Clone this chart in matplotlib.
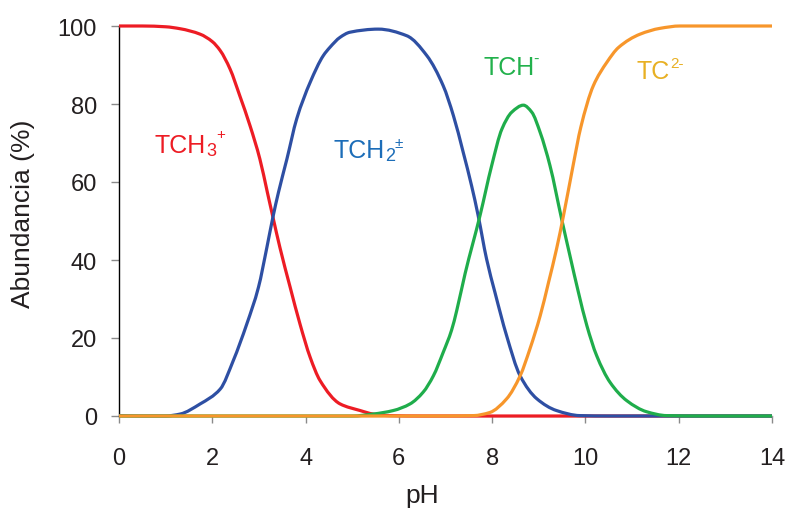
import matplotlib
matplotlib.use("Agg")
import matplotlib.pyplot as plt
import numpy as np
from matplotlib.path import Path
from matplotlib.patches import PathPatch

plt.rcParams['font.family'] = ['Liberation Sans', 'DejaVu Sans']

# ---- data ----
red_ph = [0, 0.5, 1.0, 1.31, 1.74, 2.0, 2.17, 2.38, 2.59, 2.81, 3.02, 3.18, 3.30, 3.45,
          3.67, 3.88, 4.10, 4.31, 4.74, 5.17, 5.45, 5.8, 6.5, 8, 10, 12, 14]
red_val = [100, 100, 99.8, 99.3, 97.9, 96, 93.7, 89, 82.1, 74.4, 65.9, 57.4, 51, 43.2,
           33.0, 23.6, 15.0, 9.1, 3.1, 1.4, 0.5, 0.1, 0, 0, 0, 0, 0]

blue_ph = [0, 0.5, 1.0, 1.31, 1.74, 2.17, 2.45, 2.74, 2.99, 3.17, 3.30, 3.42, 3.60,
           3.81, 4.10, 4.38, 4.52, 4.74, 4.95, 5.56, 6.17, 6.60, 6.95, 7.17, 7.38,
           7.56, 7.70, 7.88, 8.06, 8.31, 8.60, 8.96, 9.38, 9.88, 10.5, 12, 14]
blue_val = [0.1, 0, 0, 0.5, 3.1, 6.9, 14.2, 23.6, 33.0, 43.2, 51, 57.4, 65.9,
            76.2, 85.6, 92.4, 94.5, 97.1, 98.4, 99.2, 97.5, 92.4, 84.7, 77, 67.6,
            59, 51.4, 40.3, 31.7, 20.6, 10.3, 4.4, 1.4, 0.1, 0, 0, 0]

green_ph = [0, 3, 5.0, 5.45, 5.88, 6.24, 6.52, 6.74, 6.95, 7.13, 7.24, 7.42,
            7.74, 7.99, 8.21, 8.42, 8.67, 8.85, 9.03, 9.24, 9.49, 9.67, 9.85, 10.03,
            10.24, 10.53, 10.89, 11.31, 11.74, 12.5, 14]
green_val = [0, 0, 0, 0.5, 1.4, 3.1, 6.1, 10.3, 16.3, 22, 27, 36.5,
             51.4, 64.2, 73.6, 77.9, 79.7, 77.9, 72.7, 64.2, 50.5, 41, 31.7, 23.2,
             15.5, 8.6, 3.9, 1.1, 0.1, 0, 0]

orange_ph = [0, 5, 7.0, 7.60, 7.95, 8.31, 8.60, 8.81, 9.03, 9.21, 9.38, 9.53, 9.74,
             9.90, 10.17, 10.46, 10.71, 11.17, 11.6, 12.03, 13, 14]
orange_val = [0, 0, 0, 0.1, 0.9, 4.4, 10.3, 17.2, 25.7, 34.3, 42.8, 51.4, 64.5,
              74, 84.7, 90.7, 94.5, 97.9, 99.4, 100, 100, 100]

x_ticks = [0, 2, 4, 6, 8, 10, 12, 14]
y_ticks = [0, 20, 40, 60, 80, 100]


def smooth_path(xs, ys):
    """Monotone cubic (Fritsch-Carlson) rendering of the read points as Bezier segments."""
    x = np.asarray(xs, float)
    y = np.asarray(ys, float)
    h = np.diff(x)
    d = np.diff(y) / h
    m = np.zeros_like(y)
    m[0], m[-1] = d[0], d[-1]
    for k in range(1, len(x) - 1):
        if d[k - 1] * d[k] <= 0:
            m[k] = 0.0
        else:
            w1 = 2 * h[k] + h[k - 1]
            w2 = h[k] + 2 * h[k - 1]
            m[k] = (w1 + w2) / (w1 / d[k - 1] + w2 / d[k])
    verts = [(x[0], y[0])]
    codes = [Path.MOVETO]
    for k in range(len(x) - 1):
        verts += [(x[k] + h[k] / 3, y[k] + m[k] * h[k] / 3),
                  (x[k + 1] - h[k] / 3, y[k + 1] - m[k + 1] * h[k] / 3),
                  (x[k + 1], y[k + 1])]
        codes += [Path.CURVE4] * 3
    return Path(verts, codes)


# ---- figure ----
fig = plt.figure(figsize=(7.87, 5.10), dpi=100)
ax = fig.add_axes([119/787, 1-417/510, (772-119)/787, (417-27)/510])

lw = 2.3
series = [(red_ph, red_val, '#ED1C24', 3),
          (blue_ph, blue_val, '#2E4FA3', 4),
          (green_ph, green_val, '#1FAD4B', 5),
          (orange_ph, orange_val, '#F7962B', 6)]
for xs, ys, col, z in series:
    patch = PathPatch(smooth_path(xs, ys), transform=ax.transData, fill=False,
                      edgecolor=col, lw=lw, zorder=z, clip_on=False, capstyle='butt',
                      joinstyle='round')
    ax.add_patch(patch)

ax.set_xlim(0, 14)
ax.set_ylim(0, 100)
ax.set_xticks(x_ticks)
ax.set_yticks(y_ticks)

for s in ['top', 'right']:
    ax.spines[s].set_visible(False)
ax.spines['left'].set_color('black')
ax.spines['left'].set_linewidth(1.0)
ax.spines['bottom'].set_color('#9a9a9a')
ax.spines['bottom'].set_linewidth(1.0)

ax.tick_params(axis='y', direction='out', length=5.8, width=1, color='#8a8a8a',
               labelsize=17, labelcolor='#231F20', pad=10)
ax.tick_params(axis='x', direction='out', length=5.2, width=1, color='#8a8a8a',
               labelsize=17, labelcolor='#231F20', pad=17)

fig.text(23/787, 1-214/510, 'Abundancia (%)', rotation=90, ha='center', va='center',
         fontsize=19, color='#231F20')
fig.text(422/787, (510-503)/510, 'pH', ha='center', va='baseline', fontsize=19,
         color='#231F20')

fig.canvas.draw()
renderer = fig.canvas.get_renderer()


def chem_label(x, y, main, parts, color):
    t = ax.text(x, y, main, color=color, fontsize=18, ha='left', va='baseline')
    cur = t.get_window_extent(renderer=renderer).width
    for s, size, dx, dy in parts:
        tt = ax.annotate(s, xy=(x, y), xycoords='data',
                         xytext=((cur + dx) * 72 / 100, dy * 72 / 100),
                         textcoords='offset points', fontsize=size, color=color,
                         ha='left', va='baseline', annotation_clip=False)
        cur += dx + tt.get_window_extent(renderer=renderer).width


chem_label(0.77, 67.7, 'TCH', [('3', 13, 0, -3), ('+', 11, 0, 14)], '#ED1C24')
chem_label(4.60, 66.3, 'TCH', [('2', 13, 0, -3), ('\u00b1', 11, 0, 10)], '#1C6DB8')
chem_label(7.81, 87.7, 'TCH', [('-', 12, -1, 11)], '#22B14C')
chem_label(11.1, 86.7, 'TC', [('2-', 11, 0, 11)], '#E8B023')

fig.savefig('out.png', dpi=100)
